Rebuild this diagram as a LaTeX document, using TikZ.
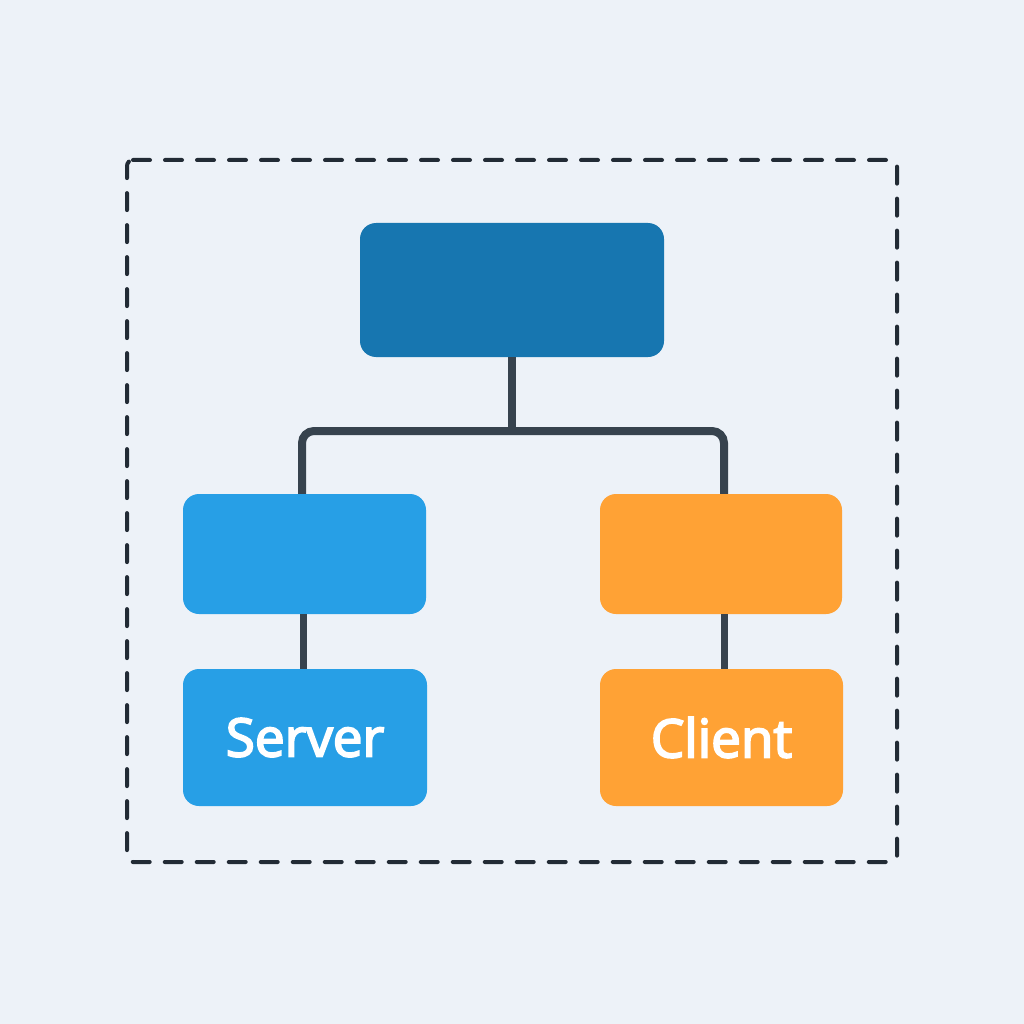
\documentclass[tikz,border=0pt]{standalone}
\usepackage{fontspec}
\setmainfont{Open Sans}
\newfontfamily\lblfont{Open Sans}[FakeBold=3.5]
\definecolor{bg}{HTML}{EDF2F8}
\definecolor{topblue}{HTML}{1776B0}
\definecolor{midblue}{HTML}{279FE6}
\definecolor{orng}{HTML}{FFA235}
\definecolor{linec}{HTML}{37434E}
\definecolor{dashc}{HTML}{222B35}
\begin{document}
\begin{tikzpicture}[x=1pt,y=-1pt,
  box/.style={rounded corners=16pt, inner sep=0pt, text=white, font=\lblfont\fontsize{53}{60}\selectfont},
  conn/.style={draw=linec, line width=8pt}]
\fill[bg] (0,0) rectangle (1024,1024);
\useasboundingbox (0,0) rectangle (1024,1024);
\draw[dashc, line width=4pt, dash pattern=on 17pt off 15pt, line cap=round, rounded corners=6pt]
  (127,160) -- (897,160) -- (897,862) -- (127,862) -- cycle;
\node[box, fill=topblue, minimum width=304pt, minimum height=134pt] (top) at (512,290) {};
\node[box, fill=midblue, minimum width=243pt, minimum height=120pt] (lm) at (304.5,554) {};
\node[box, fill=orng, minimum width=242pt, minimum height=120pt] (rm) at (721,554) {};
\node[box, fill=midblue, minimum width=244pt, minimum height=137pt] (lb) at (305,737.5) {Server};
\node[box, fill=orng, minimum width=243pt, minimum height=137pt] (rb) at (721.5,737.5) {Client};
\coordinate (j) at (512,431);
\coordinate (jl) at (302,431);
\coordinate (jr) at (724,431);
\draw[conn] (top.south) -- (j);
\draw[conn, rounded corners=12pt] (jl |- lm.north) -- (jl) -- (jr) -- (jr |- rm.north);
\draw[conn, line width=7pt] (lb.north -| 303,0) -- (lm.south -| 303,0);
\draw[conn, line width=7pt] (rb.north -| 724,0) -- (rm.south -| 724,0);
\end{tikzpicture}
\end{document}
